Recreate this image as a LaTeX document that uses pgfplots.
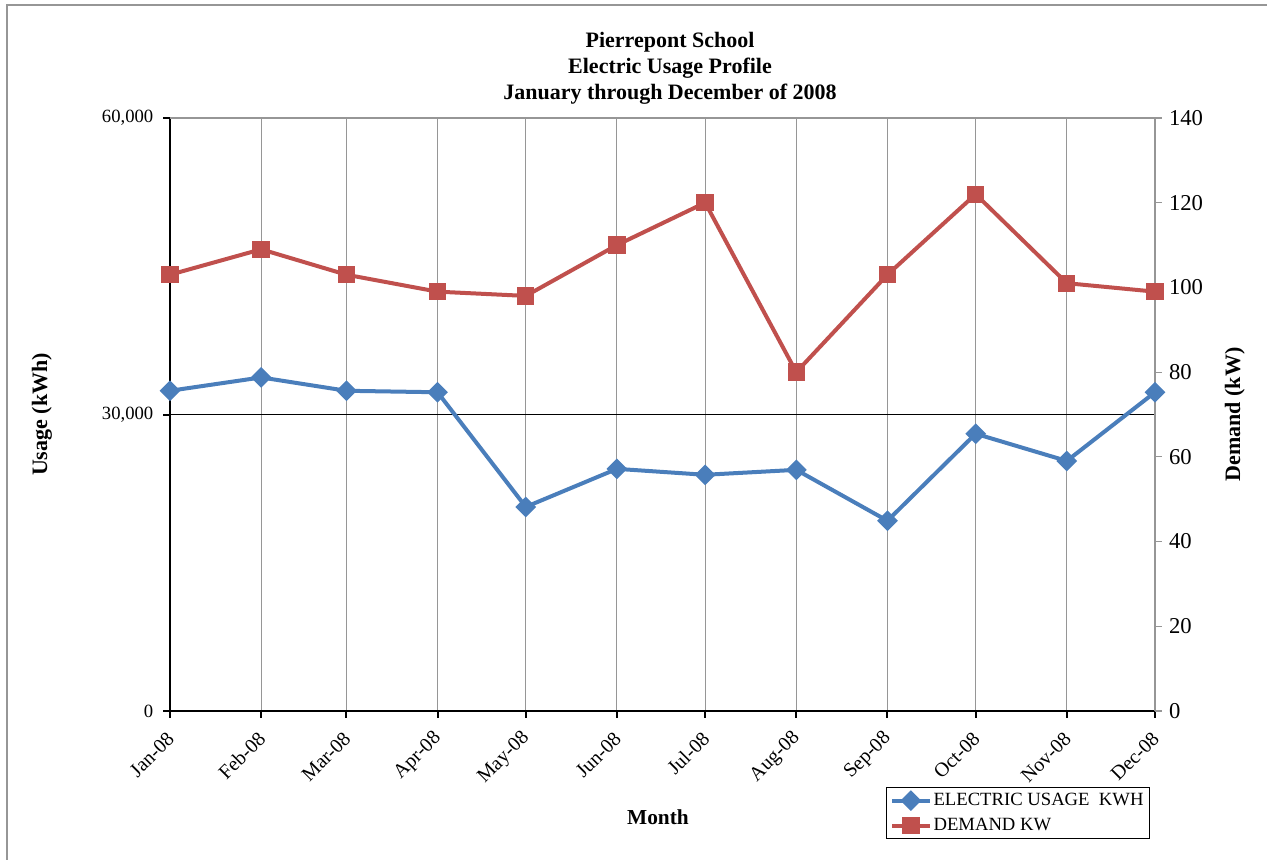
\documentclass[border=0pt]{standalone}
\usepackage{pgfplots}
\pgfplotsset{compat=1.18}
\usepackage{fontspec}
\setmainfont{Liberation Serif}
\definecolor{usageblue}{RGB}{74,126,187}
\definecolor{demandred}{RGB}{192,80,77}
\definecolor{gridgray}{RGB}{150,150,150}
\begin{document}
\begin{tikzpicture}
\useasboundingbox (-127.5pt,-111.75pt) rectangle (822.75pt,533.25pt);
\draw[gridgray, line width=1.2pt] (-122.25pt,-111.75pt) -- (-122.25pt,529.5pt) -- (822.75pt,529.5pt);
\node[align=center, font=\fontsize{16.5}{19.5}\selectfont\bfseries] at (375pt,482pt)
  {Pierrepont School\\Electric Usage Profile\\January through December of 2008};
\begin{axis}[
  at={(0,0)}, anchor=south west,
  scale only axis, width=738.75pt, height=444.75pt,
  xmin=0, xmax=335, ymin=0, ymax=60000,
  axis x line*=bottom, axis y line*=left,
  x axis line style={-, black, line width=2.2pt},
  y axis line style={-, black, line width=2.2pt},
  xtick={0,31,60,91,121,152,182,213,244,274,305,335},
  xticklabels={Jan-08,Feb-08,Mar-08,Apr-08,May-08,Jun-08,Jul-08,Aug-08,Sep-08,Oct-08,Nov-08,Dec-08},
  xticklabel style={font=\fontsize{15}{17}\selectfont, yshift=-11pt, xshift=3pt, rotate=45, anchor=east},
  xmajorgrids,
  major grid style={gridgray, line width=0.8pt},
  ytick={0,30000,60000},
  scaled y ticks=false,
  yticklabel style={font=\fontsize{14}{16}\selectfont, xshift=-4pt, /pgf/number format/1000 sep={,}, /pgf/number format/assume math mode=true},
  extra y ticks={30000}, extra y tick labels={},
  extra y tick style={grid=major, major grid style={black, line width=0.8pt}},
  tick align=outside,
  major tick length=5pt,
  tick style={black, line width=1.5pt},
  xlabel={Month},
  every axis x label/.style={at={(axis description cs:0.4954,-0.1788)}, anchor=center, font=\fontsize{16}{18}\selectfont\bfseries},
  ylabel={Usage (kWh)},
  every axis y label/.style={at={(axis description cs:-0.130,0.5)}, rotate=90, anchor=center, font=\fontsize{16.5}{18}\selectfont\bfseries},
  clip=false,
]
\draw[gridgray, line width=0.9pt] (rel axis cs:0,1) -- (rel axis cs:1,1) -- (rel axis cs:1,0);
\addplot[usageblue, line width=3pt, mark=square*, mark size=4pt, mark options={rotate=45, solid, fill=usageblue}]
  coordinates {(0,32400) (31,33750) (60,32400) (91,32250) (121,20650) (152,24500) (182,23900) (213,24400) (244,19250) (274,28050) (305,25300) (335,32250)};
\end{axis}
\begin{axis}[
  at={(0,0)}, anchor=south west,
  scale only axis, width=738.75pt, height=444.75pt,
  xmin=0, xmax=335, ymin=0, ymax=140,
  axis x line=none, axis y line*=right,
  y axis line style={draw=none},
  ytick={0,20,40,60,80,100,120,140},
  yticklabel style={font=\fontsize{17}{19}\selectfont, xshift=2pt, /pgf/number format/assume math mode=true},
  tick align=outside,
  major tick length=5pt,
  tick style={gridgray, line width=0.9pt},
  ylabel={Demand (kW)},
  every axis y label/.style={at={(axis description cs:1.081,0.5)}, rotate=90, anchor=center, font=\fontsize{16.5}{18}\selectfont\bfseries},
  clip=false,
  legend style={at={(axis description cs:0.995,-0.128)}, anchor=north east, draw=black, line width=0.8pt,
    font=\fontsize{14}{16}\selectfont, inner xsep=3pt, inner ysep=3pt, row sep=5pt,
    nodes={inner sep=1.5pt}},
  legend cell align=left,
  legend image code/.code={\draw[mark repeat=2, mark phase=2, #1] plot coordinates {(0pt,0pt) (14pt,0pt) (28pt,0pt)};},
]
\addlegendimage{usageblue, line width=3pt, mark=square*, mark size=4pt, mark options={rotate=45, solid, fill=usageblue}}
\addlegendentry{ELECTRIC USAGE\ \ KWH}
\addplot[demandred, line width=3pt, mark=square*, mark size=5pt, mark options={solid, fill=demandred}]
  coordinates {(0,103) (31,109) (60,103) (91,99) (121,98) (152,110) (182,120) (213,80) (244,103) (274,122) (305,101) (335,99)};
\addlegendentry{DEMAND KW}
\end{axis}
\end{tikzpicture}
\end{document}
